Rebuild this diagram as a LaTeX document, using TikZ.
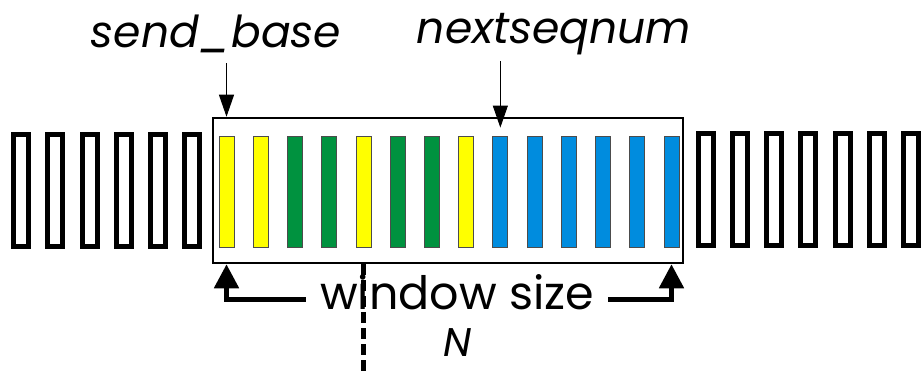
\documentclass[tikz,border=0pt]{standalone}
\usepackage{fontspec}
\setmainfont{Poppins}
\usepackage{xcolor}
\usepackage{tikz}
\usetikzlibrary{positioning}
\usetikzlibrary{arrows.meta}
\definecolor{pktyellow}{RGB}{255,255,0}
\definecolor{pktgreen}{RGB}{0,146,63}
\definecolor{pktblue}{RGB}{0,140,222}
\tikzset{thinptr/.style = {-{Triangle[length=22pt,width=15pt]}, line width=1pt}}
\tikzset{fatptr/.style = {-{Triangle[length=24pt,width=24pt]}, line width=5pt}}

\begin{document}
\begin{tikzpicture}[x=1pt,y=-1pt,
    slot/.style={draw,line width=5pt,minimum width=15pt,minimum height=112pt,inner sep=0pt},
    pkt/.style={draw=black!70,line width=0.8pt,minimum width=15pt,minimum height=111pt,inner sep=0pt},
    tag/.style={font=\fontsize{44}{50}\selectfont\itshape,inner sep=2pt}]
    \useasboundingbox (0,0) rectangle (923,371);
    \coordinate (floor) at (0,371);

    % sequence number space
    \foreach \i in {1,...,6}
        \node[slot] (old\i) at (226.5-34.23*\i,191) {};
    \foreach \i in {1,...,7}
        \node[slot] (new\i) at (671.5+34.23*\i,190) {};
    \foreach \c [count=\i] in {pktyellow,pktyellow,pktgreen,pktgreen,pktyellow,pktgreen,pktgreen,
                               pktyellow,pktblue,pktblue,pktblue,pktblue,pktblue,pktblue}
        \node[pkt,fill=\c] (p\i) at (226.5+34.23*\i-34.23,191.5) {};

    \node[draw,line width=2.5pt,minimum width=470pt,minimum height=145pt,inner sep=0pt] (win) at (448,190.5) {};

    % pointers
    \node[tag] (sb) at (216,34) {send\_base};
    \node[tag] (nsn) at (554,34) {nextseqnum};
    \draw[thinptr,shorten <=8pt] (p1 |- sb.south) -- (p1 |- win.north);
    \draw[thinptr,shorten <=4pt] (p9 |- nsn.south) -- ([yshift=8pt]p9.north);

    % window size
    \node[font=\fontsize{46}{52}\selectfont,inner sep=14pt] (wsz) at (457,292) {window size};
    \node[tag,font=\fontsize{40}{46}\selectfont\itshape] (n) at (458,343) {N};
    \draw[fatptr] ([yshift=-7pt]wsz.west) -| (p1 |- win.south);
    \draw[fatptr] ([yshift=-7pt]wsz.east) -| (p14 |- win.south);
    \draw[line width=4.5pt,dash pattern=on 11pt off 5pt] (p5 |- win.south) -- (p5 |- floor);
\end{tikzpicture}
\end{document}
